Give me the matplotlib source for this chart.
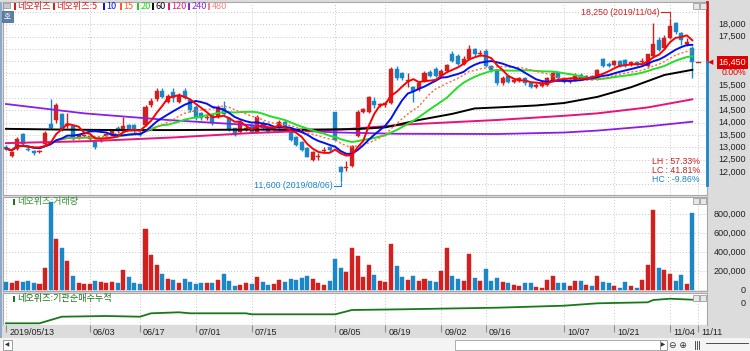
import matplotlib
matplotlib.use("Agg")
import matplotlib.pyplot as plt
import matplotlib.transforms as mtrans
from matplotlib.patches import Rectangle
import numpy as np
import pandas as pd

W, H = 750, 351

# 일봉 시가/고가/저가/종가 (2019/05/13 ~ 2019/11/08)
opens = [13000, 12650, 12950, 13550, 12950, 12850, 12800, 13150, 13950, 14100,
         14350, 13850, 13850, 13400, 13450, 13350, 13200, 13250, 13450, 13550,
         13800, 13650, 13900, 13900, 13600, 13900, 14700, 14950, 15300, 14850,
         15260, 14860, 15300, 14920, 14650, 14380, 14180, 14310, 14250, 14600,
         14180, 13770, 13640, 13700, 13900, 13640, 13980, 13770, 13700, 13840,
         14040, 13640, 13430, 13230, 12960, 12500, 12600, 12850, 13000, 14450,
         12200, 12150, 12250, 13450, 14450, 14450, 14900, 14700, 14700, 14800,
         16200, 16000, 15700, 15450, 15350, 15700, 16050, 16200, 15900, 16100,
         16800, 16700, 16400, 16600, 17000, 16800, 16900, 16300, 16100, 15600,
         15900, 15650, 15700, 15800, 15600, 15450, 15500, 15550, 15700, 16000,
         15800, 15650, 15750, 15950, 15800, 15900, 15800, 16600, 16400, 16350,
         16500, 16550, 16350, 16450, 16450, 16300, 16700, 17350, 17050, 17450,
         18050, 17650, 17200, 17050]
highs = [13100, 12850, 13400, 13600, 13000, 12900, 12900, 13650, 14950, 14800,
         14400, 14400, 13900, 13550, 13550, 13500, 13250, 13350, 13600, 13750,
         13850, 14250, 13950, 13950, 13650, 14700, 15000, 15400, 15400, 15150,
         15400, 15200, 15400, 14950, 14700, 14450, 14300, 14350, 14700, 14900,
         14250, 13800, 14100, 13850, 13950, 14300, 14050, 13800, 13800, 14100,
         14100, 13700, 13450, 13250, 13000, 12850, 12750, 13000, 13050, 14450,
         12250, 12450, 13100, 14500, 14600, 15100, 15050, 14800, 14850, 16250,
         16300, 16050, 16000, 15500, 15700, 16100, 16150, 16250, 16200, 16400,
         16900, 16800, 16700, 17150, 17050, 16950, 17000, 16350, 16150, 15900,
         15950, 15800, 15850, 15850, 15650, 15600, 15700, 15850, 16100, 16050,
         15850, 15800, 16000, 16000, 15950, 15950, 16200, 16650, 16450, 16550,
         16550, 16600, 16500, 16500, 16620, 16800, 18040, 17500, 17550, 18250,
         18100, 17700, 17450, 17100]
lows = [12900, 12600, 12900, 13100, 12850, 12700, 12750, 13100, 13750, 14000,
        13650, 13800, 13300, 13350, 13400, 13300, 12950, 13200, 13400, 13500,
        13600, 13600, 13650, 13600, 13450, 13850, 14650, 14900, 15000, 14800,
        14860, 14800, 14950, 14450, 14100, 14100, 14100, 13900, 14200, 14300,
        13650, 13450, 13600, 13650, 13600, 13600, 13700, 13600, 13650, 13800,
        13700, 13250, 13050, 12850, 12600, 12450, 12500, 12800, 12800, 13250,
        11600, 12050, 12200, 13400, 14400, 14400, 14600, 14650, 14650, 14750,
        15750, 15750, 15450, 14850, 15300, 15650, 15850, 15850, 15850, 16050,
        16450, 16350, 16350, 16550, 16700, 16700, 16250, 16050, 15550, 15550,
        15600, 15600, 15650, 15550, 15400, 15400, 15450, 15500, 15650, 15750,
        15600, 15600, 15700, 15750, 15750, 15750, 15750, 16250, 16250, 16300,
        16250, 16250, 16300, 16300, 16350, 16250, 16650, 16900, 17000, 17400,
        17600, 17150, 17100, 15800]
closes = [12950, 12800, 13350, 13150, 12900, 12750, 12850, 13600, 13800, 14700,
          13700, 13950, 13350, 13500, 13500, 13450, 13000, 13300, 13550, 13700,
          13650, 13850, 13700, 13650, 13500, 14650, 14900, 15300, 15050, 15100,
          15000, 15130, 15000, 14520, 14180, 14180, 14250, 13980, 14650, 14350,
          13700, 13500, 14040, 13770, 13640, 14250, 13770, 13640, 13750, 14040,
          13770, 13300, 13090, 12890, 12620, 12800, 12650, 12900, 12900, 13300,
          12000, 12200, 13050, 14450, 14550, 15050, 14700, 14750, 14800, 16200,
          15800, 15800, 15750, 15300, 15600, 16000, 15900, 15900, 16100, 16350,
          16500, 16400, 16600, 17000, 16800, 16850, 16300, 16150, 15600, 15800,
          15650, 15750, 15800, 15600, 15450, 15550, 15600, 15800, 16000, 15800,
          15650, 15750, 15900, 15800, 15900, 15800, 16150, 16300, 16300, 16500,
          16300, 16300, 16450, 16350, 16500, 16800, 17200, 16950, 17450, 17950,
          17700, 17350, 17300, 16450]
volumes = [84, 74, 98, 84, 98, 74, 63, 231, 928, 537,
           439, 307, 153, 74, 67, 67, 98, 91, 74, 91,
           74, 213, 143, 74, 63, 642, 370, 265, 171, 119,
           109, 74, 119, 91, 63, 74, 74, 74, 109, 171,
           98, 49, 56, 74, 70, 140, 90, 60, 70, 110,
           90, 120, 110, 130, 150, 120, 80, 60, 100, 330,
           230, 190, 440, 360, 140, 270, 160, 100, 90, 480,
           250, 140, 110, 150, 100, 120, 100, 90, 200, 440,
           150, 120, 100, 380, 130, 100, 220, 100, 130, 90,
           73, 55, 48, 73, 73, 38, 28, 108, 150, 73,
           73, 45, 97, 97, 55, 48, 150, 83, 73, 48,
           21, 90, 48, 28, 104, 261, 838, 234, 216, 171,
           97, 157, 63, 810]  # 천주

# 장기 이동평균 (화면에서 읽은 값)
ma60_idx = [0, 10, 20, 30, 44, 55, 63, 68, 74, 80, 84, 88, 95, 100, 106, 112, 118, 123]
ma60_val = [13750, 13720, 13700, 13700, 13720, 13720, 13740, 13810, 14110, 14360,
            14580, 14620, 14700, 14800, 15050, 15440, 15940, 16150]
ma120_idx = [0, 15, 30, 44, 60, 72, 88, 100, 106, 115, 123]
ma120_val = [13170, 13250, 13400, 13580, 13720, 13930, 14110, 14280, 14380, 14620, 14950]
ma240_idx = [0, 14, 29, 44, 49, 60, 70, 88, 100, 106, 115, 123]
ma240_val = [14760, 14380, 14110, 13900, 13700, 13600, 13550, 13540, 13600, 13680, 13850, 14040]

# 기관 순매수 누적 (천주)
inst_idx = [0, 6, 10, 18, 24, 26, 31, 33, 43, 44, 52, 59, 62, 71, 88, 100, 106, 115, 116, 119, 123]
inst_val = [-386, -386, -254, -240, -254, -186, -166, -186, -186, -206, -206, -206,
            -120, -106, -74, -34, 14, 34, 80, 106, 86]

tick_idx = [0, 15, 24, 34, 44, 59, 68, 78, 86, 100, 109, 119, 124]
tick_lbl = ['2019/05/13', '06/03', '06/17', '07/01', '07/15', '08/05', '08/19',
            '09/02', '09/16', '10/07', '10/21', '11/04', '11/11']

RED = '#d41f1f'
BLUE = '#1b86c8'
NARROW = ['Liberation Sans Narrow', 'Liberation Sans', 'DejaVu Sans']
KR = ['Noto Sans CJK KR', 'DejaVu Sans']
plt.rcParams['font.family'] = KR


def box(l, t, r, b):
    return [l / W, 1 - b / H, (r - l) / W, (b - t) / H]


def fx(px):
    return px / W


def fy(py):
    return 1 - py / H


fig = plt.figure(figsize=(7.5, 3.51), dpi=100)
fig.patch.set_facecolor('#dcdcdc')

ax_p = fig.add_axes(box(3, 2, 707, 195))
ax_v = fig.add_axes(box(3, 197, 707, 291), sharex=ax_p)
ax_i = fig.add_axes(box(3, 293, 707, 325), sharex=ax_p)
ax_d = fig.add_axes(box(3, 325, 707, 338), sharex=ax_p)

o = np.array(opens)
hh = np.array(highs)
ll = np.array(lows)
c = np.array(closes)
v = np.array(volumes) * 1000
n = len(c)
idx = np.arange(n)
up = c >= o
col = np.where(up, RED, BLUE)

for ax in (ax_p, ax_v, ax_i):
    ax.set_facecolor('white')
    ax.set_xticks(tick_idx)
    ax.grid(True, color='#c6c6c6', ls=(0, (1, 2)), lw=0.7)
    ax.tick_params(left=False, right=False, bottom=False, top=False,
                   labelleft=False, labelbottom=False)
    for s in ax.spines.values():
        s.set_color('#a8a8a8')
        s.set_linewidth(0.8)
    ax.set_axisbelow(True)

ax_p.set_xlim(-0.54, 125.63)

# 캔들
ax_p.vlines(idx, ll, hh, colors=col, lw=1, zorder=3)
body_bot = np.minimum(o, c)
body_h = np.maximum(np.abs(c - o), 25)
ax_p.bar(idx, body_h, bottom=body_bot, width=0.72, color=col, edgecolor=col,
         linewidth=0.3, zorder=3)

# 이동평균
s = pd.Series(c, dtype=float)
ax_p.plot(ma240_idx, ma240_val, color='#8a1ee6', lw=1.3, zorder=4)
ax_p.plot(ma120_idx, ma120_val, color='#e6137a', lw=1.4, zorder=4)
ax_p.plot(ma60_idx, ma60_val, color='black', lw=1.4, zorder=4)
ax_p.plot(idx, s.rolling(20, min_periods=1).mean(), color='#22e022', lw=1.4, zorder=4)
ax_p.plot(idx, s.rolling(15, min_periods=1).mean(), color='#ff6a3d', lw=1.0,
          ls=(0, (1.5, 1.5)), zorder=4)
ax_p.plot(idx, s.rolling(10, min_periods=1).mean(), color='#0010f0', lw=1.4, zorder=5)
ax_p.plot(idx, s.rolling(5, min_periods=1).mean(), color='#ff0000', lw=1.4, zorder=6)

ax_p.set_ylim(11061, 18906)
ax_p.set_yticks(np.arange(11500, 19000, 500))

# 현재가 표시
last = c[-1]
ax_p.plot([n - 1 + 0.6, n - 1 + 1.4], [last, last], color=RED, lw=1, zorder=6)
xr = ax_p.get_xlim()[1]
ax_p.plot([xr, xr], [ax_p.get_ylim()[1], last], color='#e01010', lw=2,
          clip_on=False, zorder=7)
ax_p.plot([xr, xr], [last, ll.min() - 120], color='#1b86c8', lw=2,
          clip_on=False, zorder=7)

# 최고/최저 표시
hi_i = int(np.argmax(hh))
lo_i = int(np.argmin(ll))
hi = hh[hi_i]
lo = ll[lo_i]
ax_p.text(hi_i - 1.9, hi + 230, f'{hi:,} (2019/11/04)', color=RED, fontsize=6.3,
          family=NARROW, ha='right', va='center', zorder=8)
ax_p.plot([hi_i - 1.7, hi_i, hi_i], [hi + 230, hi + 230, hi + 60], color=RED,
          lw=0.8, zorder=8)
ax_p.text(lo_i - 1.4, lo - 170, f'{lo:,} (2019/08/06)', color=BLUE, fontsize=6.3,
          family=NARROW, ha='right', va='center', zorder=8)
ax_p.plot([lo_i - 1.2, lo_i, lo_i], [lo - 170, lo - 170, lo - 40], color=BLUE,
          lw=0.8, zorder=8)

lh = (hi - lo) / lo * 100
lc = (last - lo) / lo * 100
hc = (last - hi) / hi * 100
fig.text(fx(700), fy(162), f'LH : {lh:.2f}%', color=RED, fontsize=6.3, family=NARROW,
         ha='right', va='center')
fig.text(fx(700), fy(170.5), f'LC : {lc:.2f}%', color=RED, fontsize=6.3, family=NARROW,
         ha='right', va='center')
fig.text(fx(700), fy(179), f'HC : {hc:.2f}%', color=BLUE, fontsize=6.3, family=NARROW,
         ha='right', va='center')

# 오른쪽 가격 눈금 (현재가 상자에 가려지는 16,000 / 16,500 은 생략)
trp = mtrans.blended_transform_factory(fig.transFigure, ax_p.transData)
for p in range(12000, 18001, 500):
    if abs(p - last) < 600:
        continue
    fig.text(fx(746), p, f'{p:,}', transform=trp, ha='right', va='center',
             fontsize=6.5, family=NARROW, color='#222222')
fig.text(fx(746), last, f'{last:,}', transform=trp, ha='right', va='center',
         fontsize=6.5, family=NARROW, color='white', zorder=6,
         bbox=dict(boxstyle='square,pad=0.18', fc='#e00000', ec='none'))
fig.text(fx(746), last - 400, '0.00%', transform=trp, ha='right', va='center',
         fontsize=6.3, family=NARROW, color='#e00000', zorder=6)
fig.text(fx(711), last, '◀', transform=trp, ha='center', va='center',
         fontsize=5, family=['DejaVu Sans'], color='#e00000')

# 거래량
ax_v.bar(idx, v, width=0.72, color=col, edgecolor=col, linewidth=0.3, zorder=3)
ax_v.set_ylim(-7000, 977000)
ax_v.set_yticks(np.arange(0, 900000, 200000))
trv = mtrans.blended_transform_factory(fig.transFigure, ax_v.transData)
for q in range(0, 900000, 200000):
    fig.text(fx(746), q, f'{q:,}', transform=trv, ha='right', va='center',
             fontsize=6.5, family=NARROW, color='#222222')

# 기관순매수누적
ax_i.plot(inst_idx, inst_val, color='#177a17', lw=1.3, zorder=3)
ax_i.set_ylim(-420, 220)
ax_i.set_yticks([])
tri = mtrans.blended_transform_factory(fig.transFigure, ax_i.transData)
fig.text(fx(746), 0, '0', transform=tri, ha='right', va='center', fontsize=6.5,
         family=NARROW, color='#222222')

# 날짜 축
ax_d.set_facecolor('#dcdcdc')
for s_ in ax_d.spines.values():
    s_.set_visible(False)
ax_d.set_yticks([])
ax_d.tick_params(bottom=False, labelbottom=False, left=False, labelleft=False)
ax_d.set_ylim(0, 1)
ax_d.vlines(tick_idx, 0.45, 1, color='#909090', lw=0.8)
for t, lab in zip(tick_idx, tick_lbl):
    ax_d.text(t + 0.55, 0.45, lab, fontsize=6.5, family=NARROW, color='#222222',
              ha='left', va='center')

# 범례
legend_items = [('네오위즈', '#d02020', 14), ('네오위즈:5', '#e02020', 53),
                ('10', '#1010f0', 103), ('15', '#ff5a28', 120), ('20', '#22cc22', 137),
                ('60', '#111111', 152), ('120', '#e0207a', 168), ('240', '#8a2be2', 188),
                ('480', '#f08a8a', 208)]
for lab, cc, xp in legend_items:
    fig.patches.append(Rectangle((fx(xp), fy(9.5)), 2 / W, 6 / H, transform=fig.transFigure,
                                 fc=cc, ec='none'))
    fig.text(fx(xp + 3.5), fy(6.5), lab, color=cc, fontsize=6.6, ha='left', va='center')

fig.patches.append(Rectangle((fx(3), fy(8)), 7 / W, 5 / H, transform=fig.transFigure,
                             fc='#c8c8c8', ec='#909090', lw=0.5))
fig.patches.append(Rectangle((fx(2), fy(22)), 11 / W, 11 / H, transform=fig.transFigure,
                             fc='#5d7fa6', ec='#3d5f86', lw=0.5))
fig.text(fx(7.5), fy(16.5), '호', color='white', fontsize=5.5, ha='center', va='center')

fig.patches.append(Rectangle((fx(13), fy(205)), 2 / W, 6 / H, transform=fig.transFigure,
                             fc='#1a7a1a', ec='none'))
fig.text(fx(17), fy(201.5), '네오위즈:거래량', color='#2f8f2f', fontsize=6.6,
         ha='left', va='center')
fig.patches.append(Rectangle((fx(13), fy(302)), 2 / W, 6 / H, transform=fig.transFigure,
                             fc='#1a7a1a', ec='none'))
fig.text(fx(17), fy(298.5), '네오위즈:기관순매수누적', color='#1a6f1a', fontsize=6.6,
         ha='left', va='center')

# 패널 아이콘
for ty in (3, 198, 295):
    for tx in (693, 700):
        fig.patches.append(Rectangle((fx(tx), fy(ty + 6)), 6 / W, 6 / H,
                                     transform=fig.transFigure, fc='#e8e8e8',
                                     ec='#8c8c8c', lw=0.5))

# 왼쪽 테두리
fig.patches.append(Rectangle((0, fy(338)), 2 / W, 336 / H, transform=fig.transFigure,
                             fc='#8fa9c9', ec='none'))

# 하단 스크롤 영역
fig.patches.append(Rectangle((0, 0), 1, 13 / H, transform=fig.transFigure,
                             fc='#f4f4f4', ec='none'))
fig.patches.append(Rectangle((fx(3), fy(350)), 9 / W, 10 / H, transform=fig.transFigure,
                             fc='white', ec='#909090', lw=0.6))
fig.text(fx(7.5), fy(345), '◀', fontsize=4, family=['DejaVu Sans'], ha='center',
         va='center', color='#333333')
fig.patches.append(Rectangle((fx(455), fy(350)), 205 / W, 10 / H,
                             transform=fig.transFigure, fc='white', ec='#a0a0a0', lw=0.6))
fig.patches.append(Rectangle((fx(660), fy(350)), 7 / W, 10 / H, transform=fig.transFigure,
                             fc='white', ec='#909090', lw=0.6))
fig.text(fx(663.5), fy(345), '▶', fontsize=4, family=['DejaVu Sans'], ha='center',
         va='center', color='#333333')
fig.text(fx(678), fy(345), '⊖ ⊕', fontsize=6.5, family=['DejaVu Sans'], ha='center',
         va='center', color='#333333')
for k in range(3):
    fig.lines.append(plt.Line2D([fx(695 + 2 * k), fx(695 + 2 * k)], [fy(349), fy(341)],
                                transform=fig.transFigure, color='#333333', lw=0.6))
fig.lines.append(plt.Line2D([fx(706), fx(748)], [fy(343), fy(343)],
                            transform=fig.transFigure, color='#333333', lw=0.6))

fig.savefig('out.png', dpi=100, facecolor=fig.get_facecolor())
